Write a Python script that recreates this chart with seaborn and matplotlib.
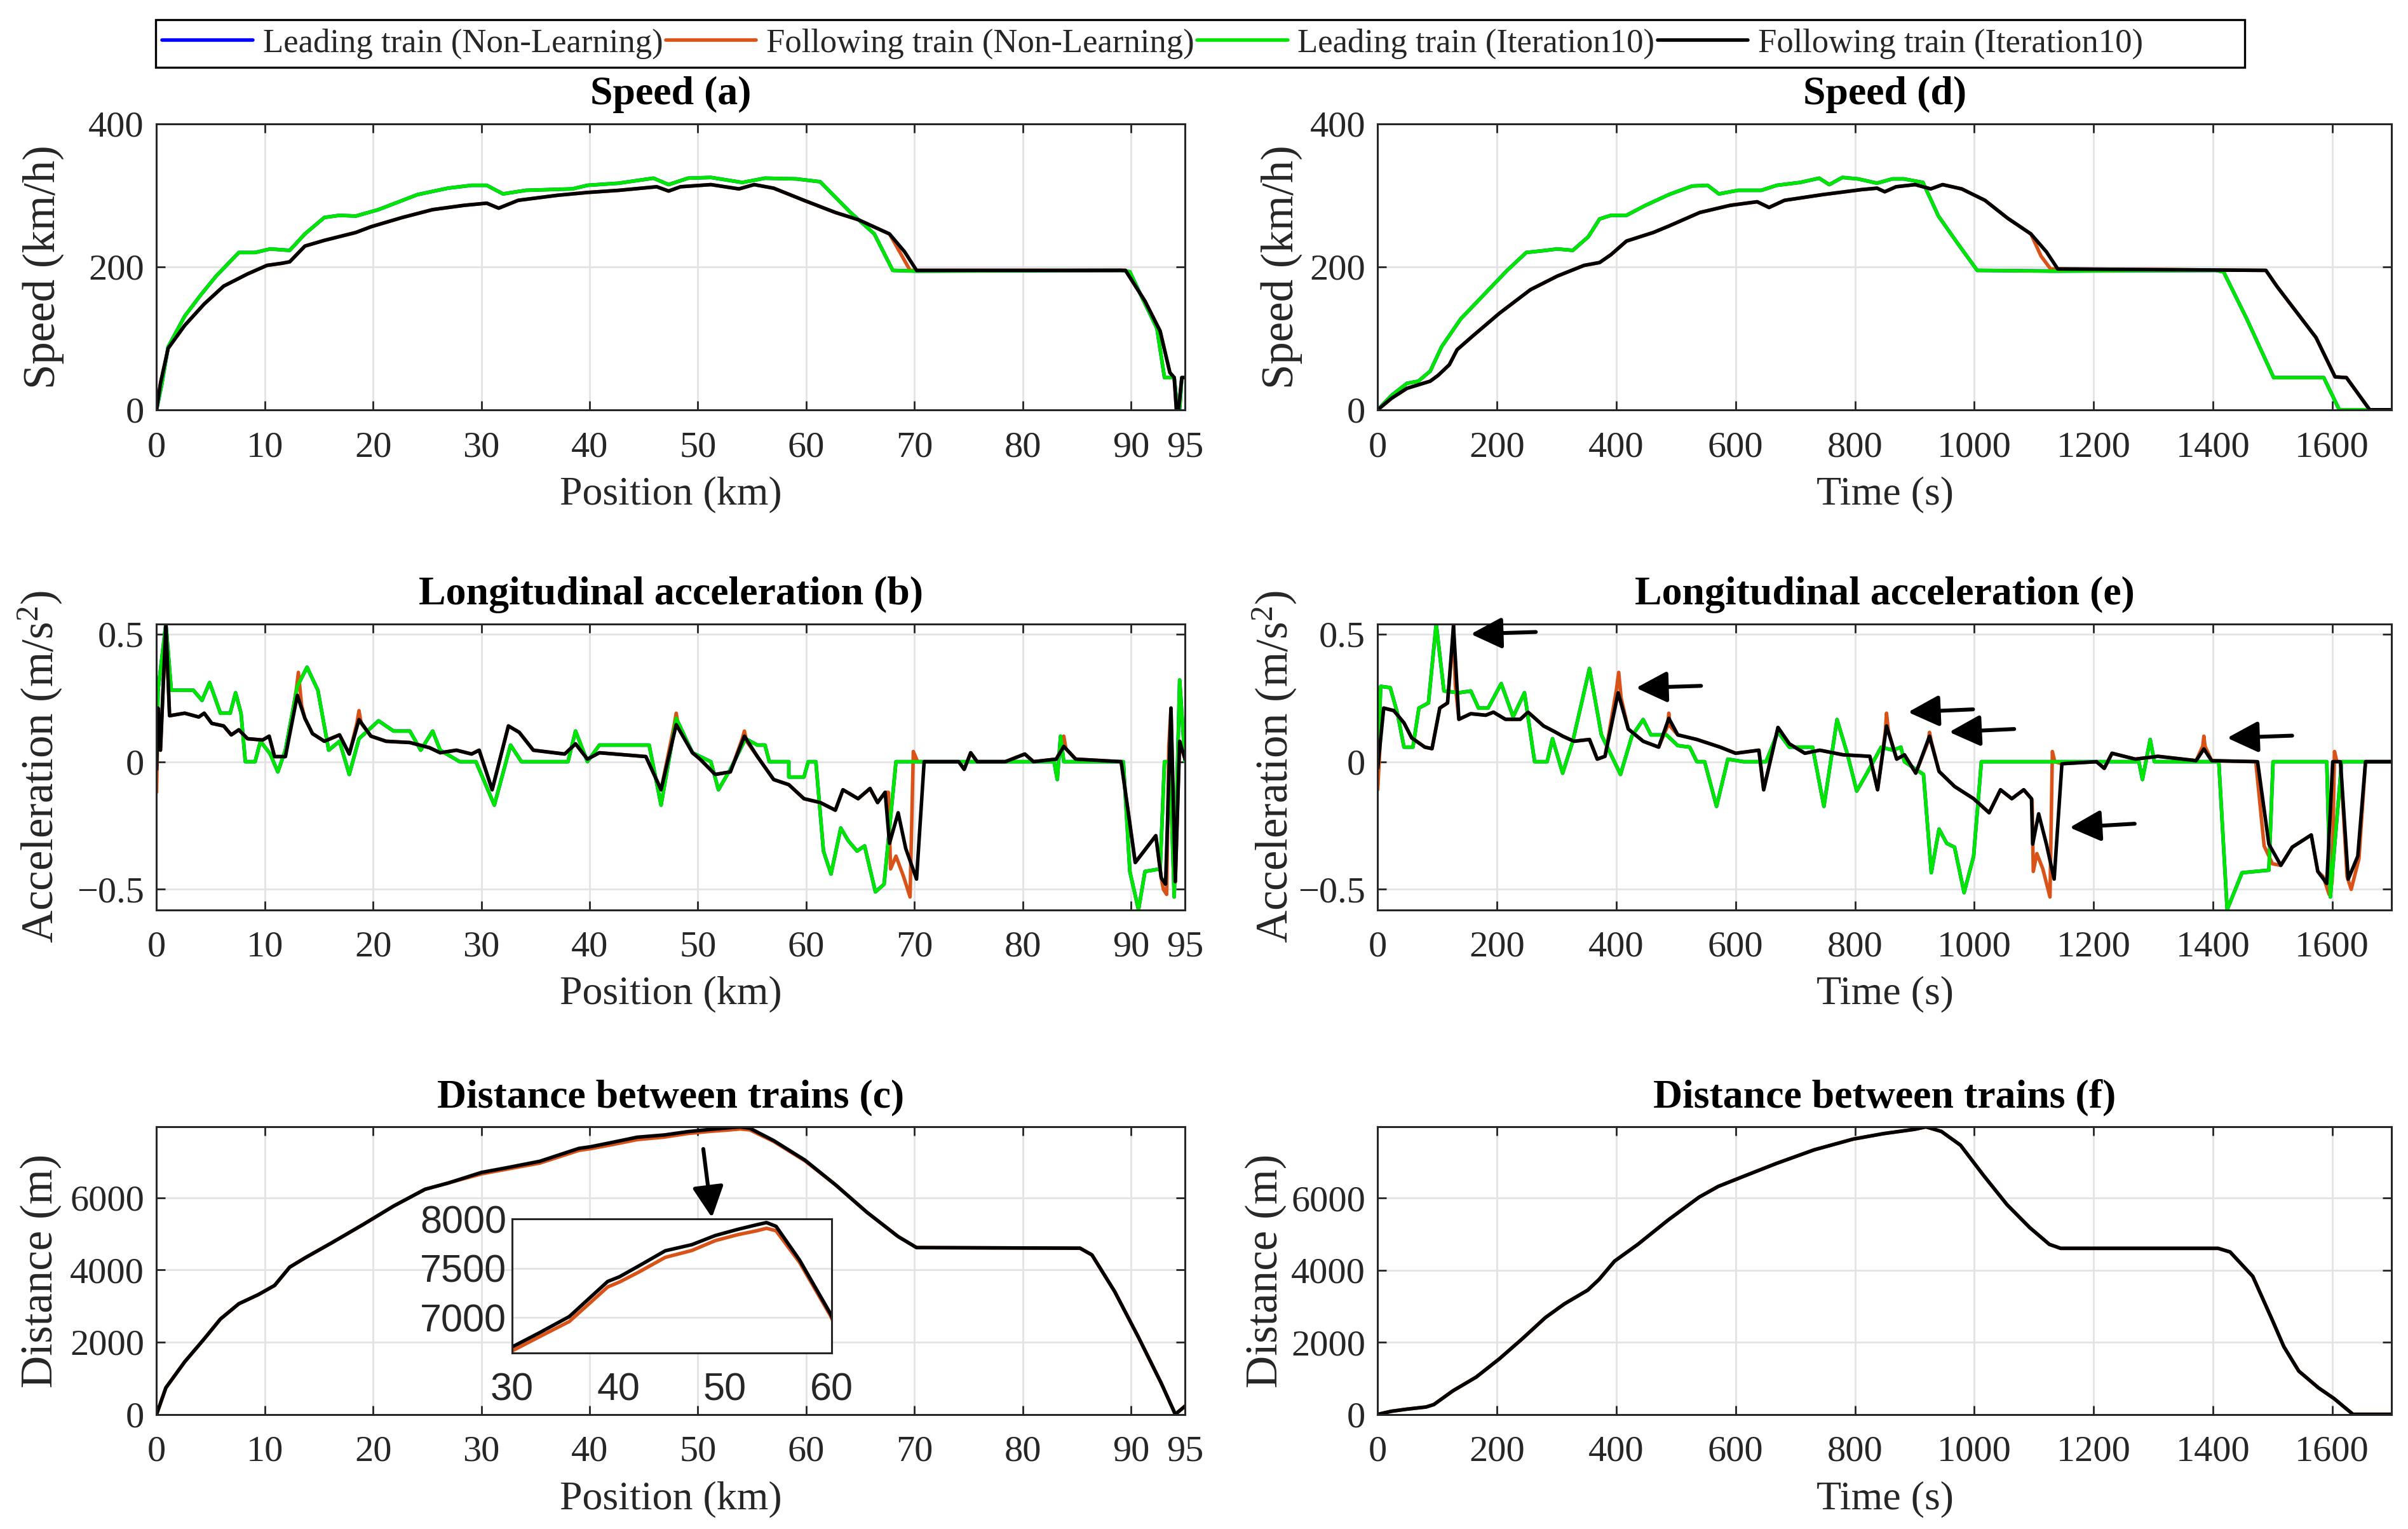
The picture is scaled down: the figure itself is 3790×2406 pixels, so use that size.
import numpy as np
import matplotlib
matplotlib.use("Agg")
import matplotlib.pyplot as plt
import seaborn as sns

# ---------------- data ----------------
labels = ["Leading train (Non-Learning)", "Following train (Non-Learning)",
          "Leading train (Iteration10)", "Following train (Iteration10)"]
colors = ["#0000FF", "#D95319", "#00E600", "#000000"]

# speed vs position (km, km/h)
lead_spd_pos_x = [0, 0.5, 1.07, 2.6, 4.1, 5.5, 7.6, 9.1, 10.5, 12.3, 13.7, 15.5, 16.9, 18.4, 20.5, 24.1,
                  26.9, 29.1, 30.5, 32.0, 34.1, 38.4, 39.8, 42.7, 45.9, 47.3, 49.1, 51.2, 54.1, 56.2,
                  59.1, 61.3, 64.1, 66.3, 68.0, 70.2, 89.1, 89.9, 90.9, 92.4, 93.1, 94.0, 94.3, 94.5, 94.7, 95]
lead_spd_pos_y = [0, 37, 88, 131, 161, 187, 220, 220, 225, 223, 246, 269, 272, 271, 280, 301,
                  310, 314, 314, 302, 307, 309, 314, 317, 324, 315, 324, 325, 318, 324,
                  323, 319, 276, 246, 195, 194, 195, 193, 161, 114, 45, 45, 0, 0, 45, 45]
foll_spd_pos_x = [0, 0.36, 1.07, 2.6, 4.4, 6.2, 8.4, 10.2, 11.6, 12.3, 13.7, 15.5, 18.4, 19.8, 22.7, 25.5,
                  28.4, 30.5, 31.6, 33.4, 37.0, 39.8, 42.7, 46.2, 47.3, 48.4, 51.2, 53.8, 55.2, 57.0,
                  59.8, 62.7, 64.8, 67.7, 69.1, 70.2, 89.5, 91.3, 92.7, 93.6, 94.0, 94.2, 94.4, 94.7, 95]
foll_spd_pos_y = [0, 37, 86, 118, 148, 173, 190, 202, 205, 207, 229, 237, 248, 256, 269, 280,
                  286, 289, 282, 293, 300, 304, 307, 312, 306, 312, 315, 309, 315, 310,
                  293, 276, 266, 246, 221, 195, 195, 152, 110, 52, 45, 0, 0, 45, 45]
foll_nl_spd_pos_dev_x = [67.7, 68.6, 69.6]
foll_nl_spd_pos_dev_y = [246, 222, 195]

# speed vs time (s, km/h)
lead_spd_t_x = [0, 23, 49, 68, 88, 107, 139, 178, 217, 249, 282, 301, 327, 353, 372, 391, 417, 449, 488,
                527, 553, 572, 604, 643, 669, 708, 740, 757, 779, 805, 837, 863, 882, 914, 940, 972,
                1005, 1134, 1405, 1418, 1457, 1502, 1586, 1612, 1700]
lead_spd_t_y = [0, 20, 37, 40, 54, 88, 127, 161, 195, 220, 223, 225, 223, 242, 267, 272, 272, 286, 301,
                313, 314, 302, 307, 307, 314, 318, 324, 315, 325, 323, 317, 323, 323, 318, 271, 233,
                195, 194, 195, 193, 127, 45, 45, 0, 0]
foll_spd_t_x = [0, 23, 49, 88, 101, 120, 133, 159, 204, 256, 301, 346, 372, 391, 417, 462, 488, 540, 591,
                636, 656, 682, 746, 811, 837, 850, 869, 901, 927, 947, 979, 1018, 1056, 1095, 1121,
                1140, 1489, 1508, 1573, 1605, 1624, 1663, 1700]
foll_spd_t_y = [0, 16, 30, 40, 48, 63, 84, 103, 135, 168, 187, 202, 206, 217, 236, 248, 257, 276, 286,
                291, 283, 293, 301, 308, 310, 305, 312, 315, 309, 315, 309, 293, 268, 246, 221,
                197, 195, 172, 101, 46, 45, 0, 0]
foll_nl_spd_t_dev_x = [1095, 1112, 1128]
foll_nl_spd_t_dev_y = [246, 215, 197]

# acceleration vs position (km, m/s^2)
lead_acc_pos_x = [0, 0.14, 0.86, 1.36, 3.4, 4.2, 4.9, 5.9, 6.8, 7.3, 7.8, 8.2, 9.1, 9.6, 10.5, 11.2, 11.9,
                  13.0, 13.9, 14.9, 15.9, 16.9, 17.8, 18.7, 20.5, 21.9, 23.4, 24.4, 25.5, 26.2, 28.0,
                  29.5, 31.2, 32.7, 33.7, 38.0, 38.7, 39.8, 40.9, 45.5, 46.6, 48.0, 49.5, 51.2, 51.9,
                  53.0, 54.4, 55.5, 56.2, 56.6, 58.4, 58.4, 59.8, 60.2, 60.9, 61.6, 62.3, 63.2, 63.9,
                  64.7, 65.4, 66.4, 67.2, 68.3, 82.9, 83.2, 83.5, 83.8, 89.3, 89.9, 90.7, 91.3, 92.7,
                  93.1, 93.6, 94.0, 94.5, 95]
lead_acc_pos_y = [0, 0.28, 0.54, 0.28, 0.28, 0.24, 0.31, 0.19, 0.19, 0.27, 0.19, 0, 0, 0.08, 0.03, -0.04, 0.045,
                  0.295, 0.37, 0.28, 0.045, 0.08, -0.05, 0.09, 0.16, 0.12, 0.12, 0.045, 0.12, 0.045, 0,
                  0, -0.17, 0.065, 0, 0, 0.12, 0, 0.065, 0.065, -0.17, 0.17, 0.035, 0, -0.11,
                  -0.03, 0.09, 0.065, 0.065, 0, 0, -0.06, -0.06, 0, 0, -0.35, -0.44, -0.26, -0.31,
                  -0.35, -0.33, -0.51, -0.48, 0, 0, -0.07, 0.1, 0, 0, -0.43, -0.58, -0.43, -0.42,
                  0, 0, -0.53, 0.32, 0]
foll_acc_pos_x = [0, 0.14, 0.36, 0.86, 1.2, 2.6, 3.9, 4.4, 5.1, 6.2, 6.9, 7.6, 8.4, 9.8, 10.4, 10.9, 11.9,
                  13.0, 13.7, 14.4, 15.5, 16.9, 17.8, 18.7, 19.8, 21.2, 23.4, 25.2, 26.2, 27.7, 29.1,
                  29.8, 31.0, 32.5, 33.5, 34.8, 37.7, 38.7, 39.8, 40.9, 45.2, 46.6, 48.0, 49.5, 50.2,
                  51.6, 53.0, 54.3, 55.5, 57.0, 58.4, 59.8, 61.3, 62.7, 63.4, 64.8, 65.9, 66.6, 67.3,
                  67.7, 68.5, 69.2, 70.2, 70.9, 74.1, 74.6, 75.2, 75.8, 78.4, 80.2, 81.0, 83.1, 83.8,
                  84.9, 89.1, 90.4, 92.3, 92.8, 93.2, 93.7, 94.1, 94.5, 95]
foll_acc_pos_y = [-0.03, 0.21, 0.045, 0.54, 0.18, 0.19, 0.175, 0.19, 0.15, 0.14, 0.105, 0.125, 0.09, 0.085, 0.1, 0.02, 0.02,
                  0.26, 0.17, 0.11, 0.08, 0.105, 0.03, 0.165, 0.1, 0.08, 0.075, 0.055, 0.035, 0.045, 0.03,
                  0.045, -0.11, 0.14, 0.115, 0.045, 0.03, 0.07, 0.01, 0.035, 0.02, -0.11, 0.145, 0.035, 0.01,
                  -0.05, -0.04, 0.1, 0.02, -0.07, -0.09, -0.145, -0.16, -0.19, -0.11, -0.145, -0.105, -0.16, -0.12,
                  -0.32, -0.2, -0.34, -0.46, 0, 0, -0.03, 0.035, 0, 0, 0.03, 0, 0.01, 0.06,
                  0.01, 0, -0.395, -0.29, -0.455, -0.48, 0.21, -0.47, 0.08, 0.01]
foll_nl_acc_pos_dev_x = [[0, 0.1], [12.9, 13.1, 13.4], [18.5, 18.7, 18.9], [47.8, 48.0, 48.2],
                         [54.1, 54.3, 54.5], [67.6, 67.8, 68.3, 69.0, 69.6, 69.9, 70.3],
                         [83.6, 83.8, 84.0], [93.0, 93.3, 93.5]]
foll_nl_acc_pos_dev_y = [[-0.12, 0.1], [0.28, 0.35, 0.22], [0.15, 0.2, 0.15], [0.14, 0.19, 0.14],
                         [0.09, 0.12, 0.08], [-0.12, -0.42, -0.37, -0.45, -0.53, 0.04, 0.0],
                         [0.05, 0.1, 0.05], [-0.5, -0.52, 0.06]]

# acceleration vs time (s, m/s^2)
lead_acc_t_x = [0, 5, 21, 33, 44, 59, 69, 85, 98, 111, 136, 156, 169, 185, 207, 227, 246, 263, 284, 293,
                310, 327, 355, 375, 407, 426, 445, 458, 484, 503, 523, 535, 548, 568, 587, 613, 651,
                671, 690, 729, 748, 770, 787, 803, 819, 844, 864, 877, 883, 915, 928, 941, 954, 967,
                983, 999, 1012, 1276, 1282, 1295, 1302, 1410, 1424, 1449, 1494, 1501, 1591, 1597,
                1616, 1700]
lead_acc_t_y = [0, 0.295, 0.29, 0.19, 0.057, 0.057, 0.21, 0.23, 0.54, 0.277, 0.27, 0.277, 0.21, 0.21, 0.306,
                0.176, 0.27, 0, 0, 0.09, -0.045, 0.08, 0.365, 0.105, -0.05, 0.1, 0.165, 0.105, 0.105,
                0.063, 0.057, 0, 0, -0.175, 0.01, 0, 0, 0.117, 0.057, 0.057, -0.175, 0.165, 0.033,
                -0.115, -0.05, 0.057, 0.045, 0.057, 0, -0.05, -0.435, -0.264, -0.32, -0.335, -0.513,
                -0.37, 0, 0, -0.07, 0.087, 0, 0, -0.58, -0.435, -0.425, 0, 0, -0.53, 0, 0]
foll_acc_t_x = [0, 10, 27, 44, 57, 79, 91, 104, 117, 127, 136, 156, 181, 194, 214, 239, 252, 278, 297, 310,
                329, 355, 368, 381, 403, 420, 445, 471, 488, 503, 535, 574, 600, 639, 647, 671, 690,
                716, 741, 780, 825, 838, 853, 870, 883, 902, 925, 941, 967, 999, 1025, 1044, 1063,
                1083, 1096, 1098, 1108, 1121, 1134, 1147, 1205, 1218, 1231, 1270, 1308, 1372, 1385,
                1398, 1475, 1494, 1514, 1533, 1565, 1576, 1591, 1601, 1614, 1627, 1643, 1656, 1700]
foll_acc_t_y = [-0.026, 0.21, 0.2, 0.152, 0.093, 0.057, 0.051, 0.21, 0.23, 0.532, 0.166, 0.188, 0.182, 0.194,
                0.166, 0.166, 0.194, 0.14, 0.117, 0.1, 0.08, 0.087, 0.01, 0.021, 0.27, 0.128, 0.08, 0.057,
                0.17, 0.105, 0.087, 0.057, 0.033, 0.045, -0.11, 0.134, 0.07, 0.033, 0.045, 0.027, 0.021,
                -0.11, 0.14, 0.01, 0.027, -0.045, 0.1, -0.038, -0.097, -0.145, -0.2, -0.11, -0.145,
                -0.11, -0.145, -0.323, -0.204, -0.323, -0.46, -0.008, 0, -0.026, 0.033, 0.01, 0.021,
                0.004, 0.05, 0.004, 0, -0.323, -0.406, -0.335, -0.287, -0.43, -0.477, 0, 0, -0.46,
                -0.37, 0, 0]
foll_nl_acc_t_dev_x = [[0, 5], [125, 127, 130], [400, 404, 408], [486, 488, 490], [851, 853, 856],
                       [923, 925, 928], [1097, 1099, 1105, 1115, 1127, 1131, 1135], [1383, 1385, 1387],
                       [1472, 1486, 1500], [1585, 1595, 1600, 1604, 1608], [1625, 1632, 1645]]
foll_nl_acc_t_dev_y = [[-0.11, 0.12], [0.45, 0.54, 0.3], [0.28, 0.35, 0.25], [0.14, 0.19, 0.14],
                       [0.12, 0.19, 0.12], [0.08, 0.115, 0.08], [-0.15, -0.43, -0.36, -0.42, -0.53, 0.04, 0.0],
                       [0.06, 0.1, 0.06], [0, -0.33, -0.40], [-0.45, -0.52, -0.47, 0.04, 0], [-0.45, -0.5, -0.38]]

# distance between trains vs position (km, m)
dist_pos_x = [0, 0.86, 2.6, 4.4, 5.9, 7.6, 9.4, 10.9, 12.3, 13.7, 16.2, 19.1, 21.9, 24.8, 26.9, 30, 32.5,
              35.4, 39.0, 40.1, 41.9, 44.4, 46.9, 49.1, 51.2, 53.0, 53.9, 54.8, 57.0, 59.9, 62.7, 65.6,
              68.5, 70.2, 85.3, 86.4, 88.5, 90.7, 92.8, 94.1, 95]
dist_pos_y = [0, 736, 1455, 2090, 2640, 3063, 3316, 3570, 4077, 4332, 4755, 5262, 5770, 6234, 6404, 6700, 6840,
              7010, 7366, 7413, 7522, 7677, 7739, 7832, 7894, 7941, 7963, 7925, 7584, 7040, 6362, 5601,
              4924, 4619, 4602, 4416, 3401, 2132, 863, 0, 228]
dist_nl_pos_dev_x = [30, 32.5, 35.4, 39.0, 40.1, 41.9, 44.4, 46.9, 49.1, 51.2, 53.0, 53.9, 54.8, 57.0, 59.9]
dist_nl_pos_dev_y = [6660, 6800, 6960, 7310, 7360, 7460, 7610, 7680, 7780, 7840, 7880, 7905, 7880, 7560, 7020]

# distance between trains vs time (s, m)
dist_t_x = [0, 23, 49, 81, 94, 126, 165, 204, 242, 281, 313, 352, 371, 397, 436, 487, 539, 571, 616, 668,
            732, 797, 848, 900, 919, 945, 977, 1016, 1055, 1093, 1126, 1145, 1409, 1429, 1467, 1499,
            1519, 1544, 1577, 1603, 1635, 1700]
dist_t_y = [0, 85, 144, 203, 271, 651, 1032, 1540, 2090, 2682, 3063, 3443, 3739, 4247, 4712, 5389, 6024,
            6320, 6616, 6954, 7335, 7631, 7783, 7902, 7970, 7843, 7462, 6616, 5812, 5178, 4712, 4602,
            4602, 4501, 3824, 2640, 1878, 1201, 736, 440, 0, 0]

# arrows in panel (e): (tail_t, tail_a, tip_t, tip_a)
arrows_e = [(265, 0.508, 156, 0.50), (542, 0.297, 433, 0.289), (998, 0.205, 889, 0.194),
            (1067, 0.128, 958, 0.116), (1269, -0.243, 1160, -0.258), (1533, 0.102, 1424, 0.093)]
arrow_c = (50.5, 7350, 51.3, 5450)

pos_ticks = [0, 10, 20, 30, 40, 50, 60, 70, 80, 90, 95]
time_ticks = [0, 200, 400, 600, 800, 1000, 1200, 1400, 1600]


def with_dev(bx, by, devs_x, devs_y):
    # following train (non-learning): same as iteration 10 except short stretches
    pts = list(zip(bx, by))
    for dx, dy in zip(devs_x, devs_y):
        lo, hi = min(dx), max(dx)
        before = [p for p in pts if p[0] < lo]
        after = [p for p in pts if p[0] > hi]
        pts = before + list(zip(dx, dy)) + after
    return [p[0] for p in pts], [p[1] for p in pts]


# ---------------- style ----------------
sns.set_theme(style="whitegrid")
plt.rcParams["font.family"] = ["Liberation Serif", "DejaVu Serif"]
plt.rcParams["mathtext.fontset"] = "custom"
plt.rcParams["mathtext.rm"] = "Liberation Serif"
plt.rcParams["mathtext.it"] = "Liberation Serif:italic"

TICK_FS, XLABEL_FS, YLABEL_FS, TITLE_FS, LEG_FS = 21, 23, 25.5, 23, 19
LW = 2.0
ARROW = dict(arrowstyle="-|>,head_length=0.6,head_width=0.3", lw=2.2, color="black",
             mutation_scale=25, shrinkA=0, shrinkB=0)

fig = plt.figure(figsize=(18.955, 12.03), dpi=200)

left_l, w_l = 0.065, 0.427
left_r, w_r = 0.572, 0.421
rows = [(0.732, 0.187), (0.405, 0.187), (0.075, 0.188)]

ax_a = fig.add_axes([left_l, rows[0][0], w_l, rows[0][1]])
ax_b = fig.add_axes([left_l, rows[1][0], w_l, rows[1][1]])
ax_c = fig.add_axes([left_l, rows[2][0], w_l, rows[2][1]])
ax_d = fig.add_axes([left_r, rows[0][0], w_r, rows[0][1]])
ax_e = fig.add_axes([left_r, rows[1][0], w_r, rows[1][1]])
ax_f = fig.add_axes([left_r, rows[2][0], w_r, rows[2][1]])


def draw(ax, series, lab=False):
    for (xs, ys), col, name in zip(series, colors, labels):
        if len(xs) == 0:
            continue
        sns.lineplot(x=xs, y=ys, ax=ax, color=col, lw=LW, sort=False, estimator=None,
                     label=name if lab else None, legend=False)


def style(ax, title, xlabel, ylabel, xticks, xlim, ylab_x):
    ax.set_title(title, fontsize=TITLE_FS, fontweight="bold", pad=11, color="black")
    ax.set_xlabel(xlabel, fontsize=XLABEL_FS, color="#262626")
    ax.set_ylabel(ylabel, fontsize=YLABEL_FS, color="#262626")
    ax.set_xticks(xticks)
    ax.set_xlim(*xlim)
    ax.tick_params(axis="both", direction="in", length=5, width=1.0, colors="#262626",
                   labelsize=TICK_FS, top=True, right=True, bottom=True, left=True)
    ax.tick_params(axis="x", pad=12)
    ax.tick_params(axis="y", pad=7)
    ax.grid(True, color="#e3e3e3", lw=1.0)
    for sp in ax.spines.values():
        sp.set_color("#262626")
        sp.set_linewidth(1.1)
    ax.yaxis.set_label_coords(ylab_x, 0.5)
    ax.xaxis.set_label_coords(0.5, -0.232)


# (a) speed vs position
o_x, o_y = with_dev(foll_spd_pos_x, foll_spd_pos_y, [foll_nl_spd_pos_dev_x], [foll_nl_spd_pos_dev_y])
draw(ax_a, [(lead_spd_pos_x, lead_spd_pos_y), (o_x, o_y),
            (lead_spd_pos_x, lead_spd_pos_y), (foll_spd_pos_x, foll_spd_pos_y)], lab=True)
style(ax_a, "Speed (a)", "Position (km)", "Speed (km/h)", pos_ticks, (0, 95), -0.09)
ax_a.set_ylim(0, 400)
ax_a.set_yticks([0, 200, 400])

# (d) speed vs time
o_x, o_y = with_dev(foll_spd_t_x, foll_spd_t_y, [foll_nl_spd_t_dev_x], [foll_nl_spd_t_dev_y])
draw(ax_d, [(lead_spd_t_x, lead_spd_t_y), (o_x, o_y),
            (lead_spd_t_x, lead_spd_t_y), (foll_spd_t_x, foll_spd_t_y)])
style(ax_d, "Speed (d)", "Time (s)", "Speed (km/h)", time_ticks, (0, 1700), -0.074)
ax_d.set_ylim(0, 400)
ax_d.set_yticks([0, 200, 400])

# (b) acceleration vs position
o_x, o_y = with_dev(foll_acc_pos_x, foll_acc_pos_y, foll_nl_acc_pos_dev_x, foll_nl_acc_pos_dev_y)
draw(ax_b, [(lead_acc_pos_x, lead_acc_pos_y), (o_x, o_y),
            (lead_acc_pos_x, lead_acc_pos_y), (foll_acc_pos_x, foll_acc_pos_y)])
style(ax_b, "Longitudinal acceleration (b)", "Position (km)", "Acceleration (m/s$^{2}$)",
      pos_ticks, (0, 95), -0.09)
ax_b.set_ylim(min(lead_acc_pos_y), max(lead_acc_pos_y))
ax_b.set_yticks([-0.5, 0, 0.5])
ax_b.set_yticklabels(["\u22120.5", "0", "0.5"])

# (e) acceleration vs time
o_x, o_y = with_dev(foll_acc_t_x, foll_acc_t_y, foll_nl_acc_t_dev_x, foll_nl_acc_t_dev_y)
draw(ax_e, [(lead_acc_t_x, lead_acc_t_y), (o_x, o_y),
            (lead_acc_t_x, lead_acc_t_y), (foll_acc_t_x, foll_acc_t_y)])
style(ax_e, "Longitudinal acceleration (e)", "Time (s)", "Acceleration (m/s$^{2}$)",
      time_ticks, (0, 1700), -0.078)
ax_e.set_ylim(min(lead_acc_t_y), max(lead_acc_t_y))
ax_e.set_yticks([-0.5, 0, 0.5])
ax_e.set_yticklabels(["\u22120.5", "0", "0.5"])
for tx, ty, hx, hy in arrows_e:
    ax_e.annotate("", xy=(hx, hy), xytext=(tx, ty), arrowprops=ARROW)

# (c) distance vs position
o_x, o_y = with_dev(dist_pos_x, dist_pos_y, [dist_nl_pos_dev_x], [dist_nl_pos_dev_y])
draw(ax_c, [([], []), (o_x, o_y), ([], []), (dist_pos_x, dist_pos_y)])
style(ax_c, "Distance between trains (c)", "Position (km)", "Distance (m)", pos_ticks, (0, 95), -0.092)
ax_c.set_ylim(0, max(dist_pos_y))
ax_c.set_yticks([0, 2000, 4000, 6000])
tx, ty, hx, hy = arrow_c
ax_c.annotate("", xy=(hx, hy), xytext=(tx, ty), arrowprops=ARROW)

# inset zoom of (c)
ax_in = fig.add_axes([0.2125, 0.1151, 0.1327, 0.0877])
sns.lineplot(x=o_x, y=o_y, ax=ax_in, color=colors[1], lw=LW, sort=False, estimator=None)
sns.lineplot(x=dist_pos_x, y=dist_pos_y, ax=ax_in, color=colors[3], lw=LW, sort=False, estimator=None)
ax_in.set_xlim(30, 60)
ax_in.set_ylim(6640, 8000)
ax_in.set_xticks([30, 40, 50, 60])
ax_in.set_yticks([7000, 7500, 8000])
ax_in.grid(False)
ax_in.yaxis.grid(True, color="#e3e3e3", lw=1.0)
ax_in.set_facecolor("white")
ax_in.tick_params(axis="both", length=0, labelsize=22, colors="#262626")
ax_in.tick_params(axis="x", pad=11)
ax_in.tick_params(axis="y", pad=3)
for t in ax_in.get_xticklabels() + ax_in.get_yticklabels():
    t.set_family("Liberation Sans")
for sp in ax_in.spines.values():
    sp.set_color("#262626")
    sp.set_linewidth(1.1)

# (f) distance vs time
draw(ax_f, [([], []), (dist_t_x, dist_t_y), ([], []), (dist_t_x, dist_t_y)])
style(ax_f, "Distance between trains (f)", "Time (s)", "Distance (m)", time_ticks, (0, 1700), -0.09)
ax_f.set_ylim(0, max(dist_t_y))
ax_f.set_yticks([0, 2000, 4000, 6000])

# legend across the top, with a MATLAB-like wide frame
handles, labs = ax_a.get_legend_handles_labels()
fig.legend(handles, labs, loc="center left", bbox_to_anchor=(0.0646, 0.9715), ncol=4,
           fontsize=LEG_FS, frameon=False, borderaxespad=0,
           handlelength=2.7, handletextpad=0.3, columnspacing=0.08, borderpad=0.2)
fig.add_artist(plt.Rectangle((0.0646, 0.956), 0.8674, 0.031, transform=fig.transFigure,
                             fill=False, edgecolor="black", lw=1.2))

fig.savefig("out.png", dpi=200, facecolor="white")
